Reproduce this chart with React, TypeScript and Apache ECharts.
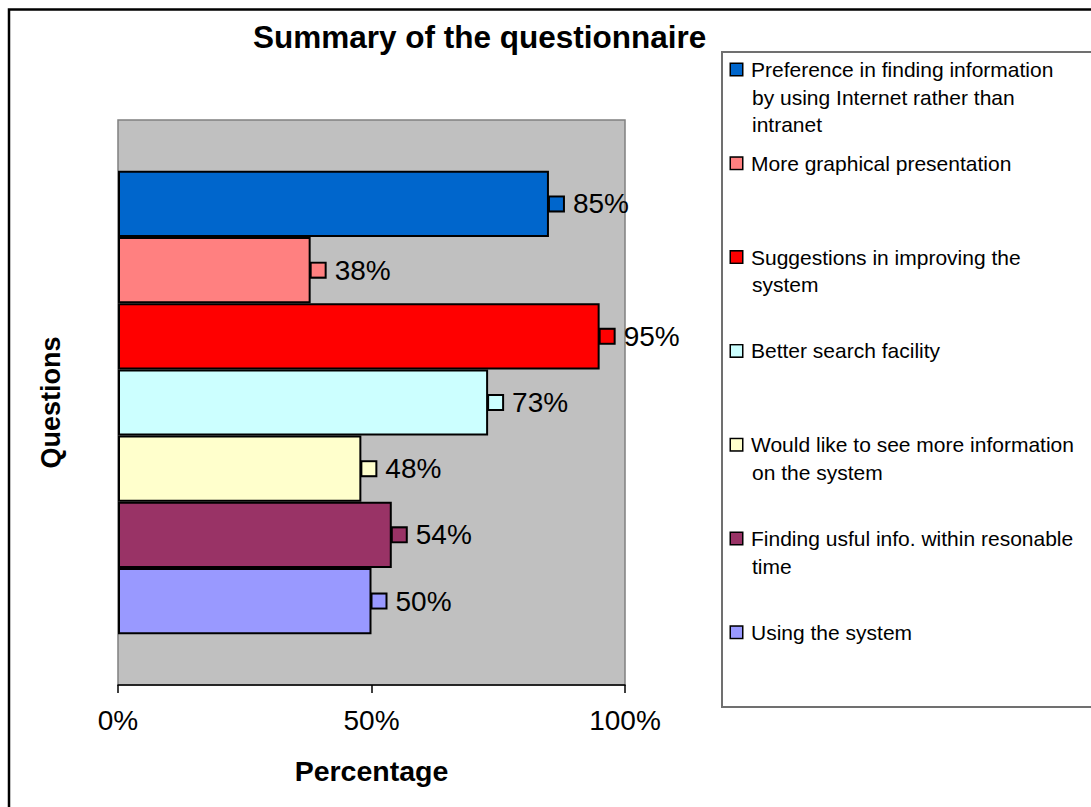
import React, { useEffect, useRef } from 'react';
import * as echarts from 'echarts';

const chartTitle = 'Summary of the questionnaire';
const seriesNames = [
  'Preference in finding information by using Internet rather than intranet',
  'More graphical presentation',
  'Suggestions in improving the system',
  'Better search facility',
  'Would like to see more information on the system',
  'Finding usful info. within resonable time',
  'Using the system',
];
const legendLines = [
  ['Preference in finding information', 'by using Internet rather than', 'intranet'],
  ['More graphical presentation'],
  ['Suggestions in improving the', 'system'],
  ['Better search facility'],
  ['Would like to see more information', 'on the system'],
  ['Finding usful info. within resonable', 'time'],
  ['Using the system'],
];
const values = [85, 38, 95, 73, 48, 54, 50];
const colors = ['#0066CC', '#FF8080', '#FF0000', '#CCFFFF', '#FFFFCC', '#993366', '#9999FF'];
const categories = ['Questions'];
const xMin = 0;
const xMax = 100;
const xInterval = 50;
const xAxisName = 'Percentage';
const yAxisName = 'Questions';

const FONT = 'Arial, "Liberation Sans", sans-serif';

export default function App() {
  const ref = useRef<HTMLDivElement>(null);
  useEffect(() => {
    if (!ref.current) return;
    const chart = echarts.init(ref.current, null, { renderer: 'svg' });
    const legends = seriesNames.map((name, i) => ({
      data: [name],
      left: 726,
      top: 59 + i * 93.8,
      padding: 0,
      orient: 'vertical',
      icon: 'none',
      itemWidth: 0,
      itemHeight: 0,
      selectedMode: false,
      formatter: () =>
        legendLines[i]
          .map((l, k) => (k === 0 ? `{sq|}{gap|}{t|${l}}` : `{ind|}{t|${l}}`))
          .join('\n'),
      textStyle: {
        fontFamily: FONT,
        color: '#000',
        rich: {
          sq: { width: 11, height: 11, backgroundColor: colors[i], borderColor: '#000', borderWidth: 1.5 },
          gap: { width: 9 },
          ind: { width: 21 },
          t: { fontSize: 21, lineHeight: 27.5, color: '#000', fontFamily: FONT },
        },
      },
    }));
    const series = seriesNames.map((name, i) => ({
      type: 'bar',
      name,
      data: [values[i]],
      barGap: '0%',
      barCategoryGap: '18%',
      itemStyle: { color: colors[i], borderColor: '#000', borderWidth: 2 },
      label: {
        show: true,
        position: 'right',
        distance: 1,
        formatter: (p: any) => `{sq|}{val|${p.value}%}`,
        rich: {
          sq: { width: 13, height: 13, backgroundColor: colors[i], borderColor: '#000', borderWidth: 2 },
          val: { fontSize: 28, color: '#000', padding: [0, 0, 0, 10], fontFamily: FONT },
        },
      },
    }));
    chart.setOption({
      animation: false,
      backgroundColor: '#fff',
      title: {
        text: chartTitle,
        left: 253,
        top: 21,
        padding: 0,
        textStyle: { fontFamily: FONT, fontSize: 31.5, fontWeight: 'bold', color: '#000' },
      },
      legend: legends,
      grid: {
        left: 118,
        right: 1091 - 625,
        top: 120,
        bottom: 807 - 685,
        show: true,
        backgroundColor: '#C0C0C0',
        borderColor: '#808080',
        borderWidth: 1.5,
        containLabel: false,
      },
      xAxis: {
        type: 'value',
        min: xMin,
        max: xMax,
        interval: xInterval,
        splitLine: { show: false },
        axisLine: { show: true, lineStyle: { color: '#000', width: 1.5 } },
        axisTick: { show: true, length: 8, lineStyle: { color: '#000', width: 1.5 } },
        axisLabel: { formatter: '{value}%', fontSize: 28, color: '#000', margin: 21, fontFamily: FONT },
        name: xAxisName,
        nameLocation: 'middle',
        nameGap: 71,
        nameTextStyle: { fontFamily: FONT, fontSize: 28.5, fontWeight: 'bold', color: '#000' },
      },
      yAxis: {
        type: 'category',
        data: categories,
        inverse: true,
        axisLine: { show: false },
        axisTick: { show: false },
        axisLabel: { show: false },
        name: yAxisName,
        nameLocation: 'middle',
        nameRotate: 90,
        nameGap: 54,
        nameTextStyle: { fontFamily: FONT, fontSize: 27, fontWeight: 'bold', color: '#000' },
      },
      graphic: [
        {
          type: 'rect',
          z: -1,
          shape: { x: 722, y: 52, width: 420, height: 655 },
          style: { fill: '#fff', stroke: '#707070', lineWidth: 2 },
        },
        {
          type: 'rect',
          z: 100,
          shape: { x: 9, y: 9.5, width: 1200, height: 900 },
          style: { fill: 'none', stroke: '#000', lineWidth: 2.5 },
        },
      ],
      series,
    });
    return () => chart.dispose();
  }, []);
  return <div ref={ref} style={{ position: 'absolute', left: 0, top: 0, width: 1091, height: 807 }} />;
}
